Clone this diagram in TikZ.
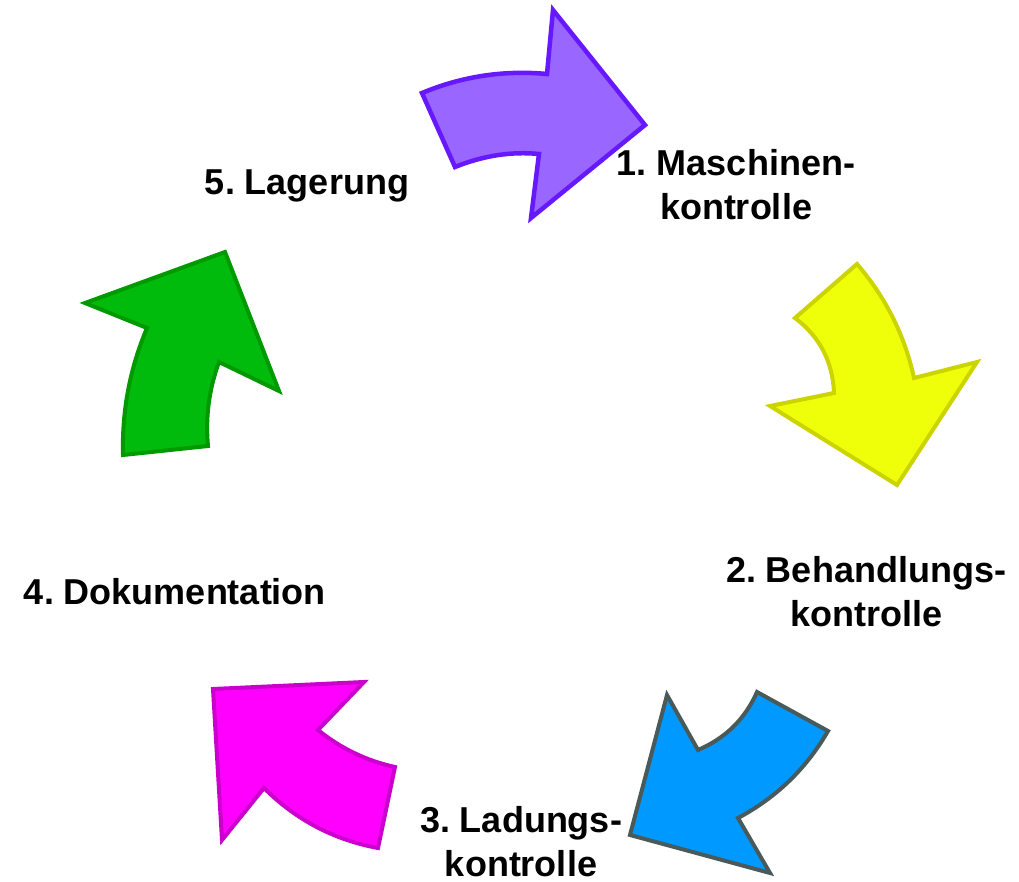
\documentclass[tikz,border=0pt]{standalone}
\usepackage{fontspec}
\setmainfont{Liberation Sans}
\frenchspacing
\definecolor{pfill}{HTML}{9966FF}\definecolor{pline}{HTML}{6619FF}
\definecolor{yfill}{HTML}{EFFF0A}\definecolor{yline}{HTML}{CCD400}
\definecolor{bfill}{HTML}{0099FF}\definecolor{bline}{HTML}{4A5A5A}
\definecolor{mfill}{HTML}{FF00FF}\definecolor{mline}{HTML}{CC00CC}
\definecolor{gfill}{HTML}{00BB0B}\definecolor{gline}{HTML}{009900}
\tikzset{
  arrowshape/.style={line width=4pt, line join=miter},
  lbl/.style={font=\fontsize{36}{44}\selectfont\bfseries, align=center, inner sep=0pt}
}
\begin{document}
\begin{tikzpicture}[x=1pt,y=-1pt]
\useasboundingbox (0,0) rectangle (1019,882);
% purple
\draw[arrowshape, fill=pfill, draw=pline, line width=4.5pt]
  (422,93) .. controls (462,76.3) and (503.7,70) .. (547,74) -- (553,10) -- (645,125) -- (531,218) -- (539,154)
  .. controls (511,151.3) and (483,155.7) .. (455,167) -- cycle;
% yellow
\draw[arrowshape, fill=yfill, draw=yline]
  (857,264) -- (795,318) .. controls (819.7,336.7) and (832.7,361.7) .. (834,393) -- (770,406) -- (897,485) -- (977,362) -- (914,378)
  .. controls (904.7,335.3) and (885.7,297.3) .. cycle;
% blue
\draw[arrowshape, fill=bfill, draw=bline]
  (757,692) -- (828,731) .. controls (806.3,768.6) and (776.3,797.6) .. (738,818) -- (770,873) -- (630,835) -- (667,695) -- (698,750)
  .. controls (725.1,738.3) and (744.8,719.6) .. cycle;
% magenta
\draw[arrowshape, fill=mfill, draw=mline]
  (213,689) -- (364,682) -- (318,730) .. controls (340.7,748.3) and (366.3,760.7) .. (395,767) -- (378,848)
  .. controls (333.8,839.8) and (295.8,819.8) .. (264,788) -- (222,840) -- cycle;
% green
\draw[arrowshape, fill=gfill, draw=gline]
  (85,303) -- (225,252) -- (279,391) -- (219,362) .. controls (209,389.3) and (205.3,417.3) .. (208,446) -- (123,455)
  .. controls (121.8,410.9) and (129.8,368.6) .. (147,328) -- cycle;
% labels
\node[lbl] (l5) at (307,186) {5. Lagerung};
\node[lbl] (l1) at (736,185) {1. Maschinen-\\kontrolle};
\node[lbl] (l2) at (866,592) {2. Behandlungs-\\kontrolle};
\node[lbl] (l3) at (521,842) {3. Ladungs-\\kontrolle};
\node[lbl] (l4) at (175,592) {4. Dokumentation};
\end{tikzpicture}
\end{document}
